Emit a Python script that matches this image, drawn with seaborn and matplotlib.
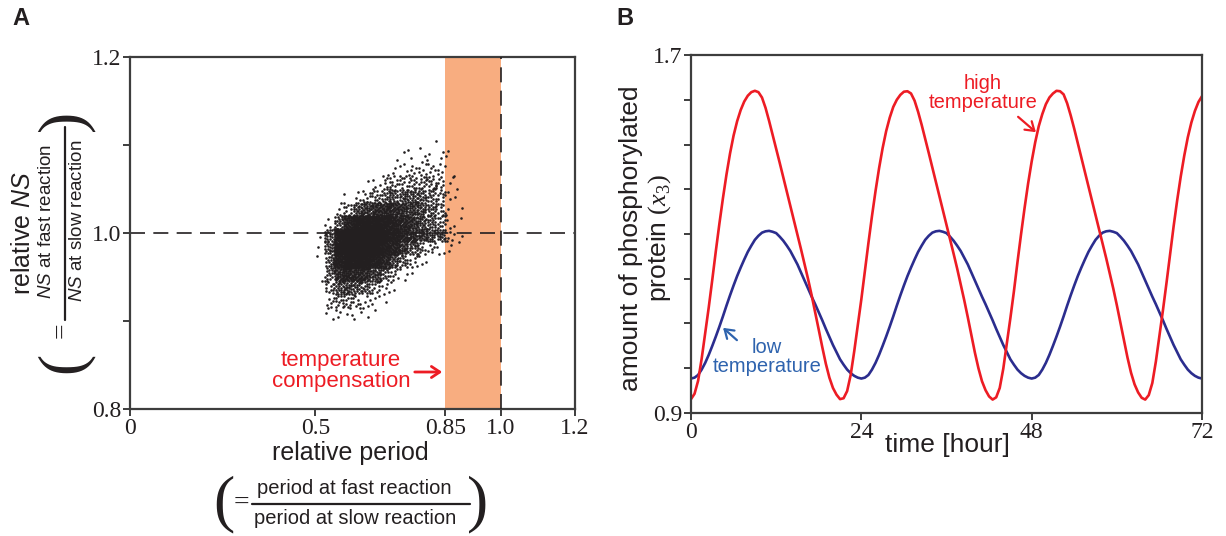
import matplotlib
matplotlib.use("Agg")
import matplotlib.pyplot as plt
import matplotlib.patches as mpatches
import seaborn as sns
import pandas as pd
from matplotlib.lines import Line2D

# ---------------- Panel A data (density of the scatter cloud) ----------------
period_bin_edges = [0.500, 0.525, 0.550, 0.575, 0.600, 0.625, 0.650, 0.675, 0.700,
                    0.725, 0.750, 0.775, 0.800, 0.825, 0.850, 0.875, 0.900]
ns_bin_edges = [1.110, 1.095, 1.080, 1.065, 1.050, 1.035, 1.020, 1.005,
                0.990, 0.975, 0.960, 0.945, 0.930, 0.915, 0.900]
# number of dots per cell (rows: top -> bottom, columns: left -> right)
ns_counts = [
    [0, 0, 0, 0, 0, 0, 0, 0, 0, 0, 0, 1, 0, 1, 0, 0],
    [0, 0, 0, 0, 0, 0, 0, 0, 1, 1, 2, 2, 2, 2, 2, 0],
    [0, 0, 0, 0, 0, 0, 0, 1, 2, 3, 5, 6, 6, 5, 1, 0],
    [0, 0, 0, 0, 0, 1, 3, 6, 8, 10, 12, 11, 10, 8, 2, 1],
    [0, 0, 0, 1, 3, 7, 12, 16, 19, 22, 21, 19, 15, 10, 2, 1],
    [0, 0, 3, 10, 22, 32, 40, 42, 40, 36, 31, 24, 17, 11, 2, 1],
    [0, 3, 18, 50, 75, 90, 90, 78, 60, 46, 35, 25, 18, 12, 3, 1],
    [1, 18, 75, 120, 135, 135, 115, 90, 68, 50, 38, 30, 24, 20, 6, 2],
    [1, 20, 85, 130, 135, 125, 100, 72, 50, 32, 20, 11, 6, 3, 2, 0],
    [1, 18, 65, 100, 100, 88, 66, 44, 26, 14, 7, 3, 0, 0, 0, 0],
    [1, 14, 38, 48, 46, 38, 26, 16, 8, 3, 1, 0, 0, 0, 0, 0],
    [0, 10, 22, 25, 22, 15, 10, 5, 2, 0, 0, 0, 0, 0, 0, 0],
    [0, 6, 10, 10, 8, 5, 3, 1, 0, 0, 0, 0, 0, 0, 0, 0],
    [0, 3, 3, 3, 2, 1, 1, 0, 0, 0, 0, 0, 0, 0, 0, 0],
]
xticks_A = [0, 0.5, 0.85, 1.0, 1.2]
xticklabels_A = ["0", "0.5", "0.85", "1.0", "1.2"]
yticks_A = [0.8, 1.0, 1.2]
yticklabels_A = ["0.8", "1.0", "1.2"]
yminor_A = [0.9, 1.1]
band_A = [0.85, 1.0]

# ---------------- Panel B data (read every half hour) ----------------
time_hours = [i * 0.5 for i in range(145)]
x3_high = [
    0.931, 0.943, 0.972, 1.021, 1.079, 1.136, 1.198, 1.262, 1.323, 1.380, 1.433,
    1.480, 1.520, 1.552, 1.577, 1.596, 1.609, 1.617, 1.620, 1.617, 1.605, 1.582,
    1.553, 1.522, 1.490, 1.459, 1.427, 1.395, 1.363, 1.331, 1.299, 1.266, 1.233,
    1.199, 1.163, 1.125, 1.086, 1.047, 1.010, 0.979, 0.956, 0.941, 0.931,
    0.933, 0.949, 0.985, 1.038, 1.096, 1.154, 1.217, 1.280, 1.340, 1.396, 1.447,
    1.492, 1.530, 1.560, 1.584, 1.600, 1.611, 1.618, 1.619, 1.614, 1.598, 1.573,
    1.544, 1.513, 1.481, 1.449, 1.418, 1.386, 1.354, 1.322, 1.289, 1.256, 1.223,
    1.188, 1.152, 1.114, 1.074, 1.035, 1.000, 0.971, 0.951, 0.937, 0.930,
    0.935, 0.956, 0.999, 1.056, 1.112, 1.172, 1.237, 1.299, 1.358, 1.413, 1.462,
    1.505, 1.541, 1.568, 1.590, 1.605, 1.614, 1.620, 1.619, 1.612, 1.592, 1.565,
    1.535, 1.503, 1.471, 1.440, 1.408, 1.376, 1.344, 1.312, 1.279, 1.246, 1.212,
    1.178, 1.141, 1.102, 1.062, 1.024, 0.990, 0.964, 0.946, 0.934,
    0.930, 0.940, 0.967, 1.015, 1.073, 1.130, 1.191, 1.255, 1.317, 1.375, 1.428,
    1.475, 1.516, 1.549, 1.575, 1.595, 1.608,
]
x3_low = [
    0.977, 0.979, 0.985, 0.997, 1.012, 1.030, 1.050, 1.071, 1.093, 1.116, 1.140, 1.163,
    1.185, 1.206, 1.225, 1.243, 1.260, 1.274, 1.287, 1.296, 1.303, 1.306, 1.307, 1.305,
    1.302, 1.294, 1.285, 1.274, 1.262, 1.247, 1.232, 1.214, 1.196, 1.178, 1.160, 1.143,
    1.125, 1.107, 1.088, 1.070, 1.052, 1.036, 1.020, 1.008, 0.997, 0.989, 0.983, 0.979,
    0.977, 0.979, 0.985, 0.997, 1.012, 1.030, 1.050, 1.071, 1.093, 1.116, 1.140, 1.163,
    1.185, 1.206, 1.225, 1.243, 1.260, 1.274, 1.287, 1.296, 1.303, 1.306, 1.307, 1.305,
    1.302, 1.294, 1.285, 1.274, 1.262, 1.247, 1.232, 1.214, 1.196, 1.178, 1.160, 1.143,
    1.125, 1.107, 1.088, 1.070, 1.052, 1.036, 1.020, 1.008, 0.997, 0.989, 0.983, 0.979,
    0.977, 0.979, 0.985, 0.997, 1.012, 1.030, 1.050, 1.071, 1.093, 1.116, 1.140, 1.163,
    1.185, 1.206, 1.225, 1.243, 1.260, 1.274, 1.287, 1.296, 1.303, 1.306, 1.307, 1.305,
    1.302, 1.294, 1.285, 1.274, 1.262, 1.247, 1.232, 1.214, 1.196, 1.178, 1.160, 1.143,
    1.125, 1.107, 1.088, 1.070, 1.052, 1.036, 1.020, 1.008, 0.997, 0.989, 0.983, 0.979,
    0.977,
]
xticks_B = [0, 24, 48, 72]
yticks_B = [0.9, 1.0, 1.1, 1.2, 1.3, 1.4, 1.5, 1.6, 1.7]
yticklabels_B = ["0.9", "", "", "", "", "", "", "", "1.7"]

# ---------------- style ----------------
sns.set_style("ticks")
plt.rcParams["font.family"] = ["Liberation Sans", "DejaVu Sans"]
plt.rcParams["mathtext.fontset"] = "custom"
plt.rcParams["mathtext.it"] = "Liberation Sans:italic"
plt.rcParams["mathtext.rm"] = "Liberation Sans"
plt.rcParams["mathtext.bf"] = "Liberation Serif:italic"
plt.rcParams["mathtext.sf"] = "Liberation Serif"
SERIF = "Liberation Serif"
INK = "#231f20"
SPINE = "#3d3d3d"
RED = "#ED1C24"
NAVY = "#2B2D8E"
LBLUE = "#2E63AE"
ORANGE = "#F8AD80"

W, H = 1226, 536
fig = plt.figure(figsize=(W / 100, H / 100), dpi=100)


def P(x, y):
    return (x / W, 1 - y / H)


axA = fig.add_axes([130 / W, 1 - 409 / H, 445 / W, 352 / H])
axB = fig.add_axes([691 / W, 1 - 413 / H, 511 / W, 358 / H])

# ---------------- Panel A ----------------
pts_x, pts_y = [], []
k = 0
for i, row in enumerate(ns_counts):
    y_hi, y_lo = ns_bin_edges[i], ns_bin_edges[i + 1]
    for j, n in enumerate(row):
        x_lo, x_hi = period_bin_edges[j], period_bin_edges[j + 1]
        for _ in range(n):
            k += 1
            u = (0.5 + k * 0.7548776662466927) % 1
            v = (0.5 + k * 0.5698402909980532) % 1
            pts_x.append(x_lo + u * (x_hi - x_lo))
            pts_y.append(y_lo + v * (y_hi - y_lo))
dfA = pd.DataFrame({"period": pts_x, "ns": pts_y})

axA.axvspan(band_A[0], band_A[1], color=ORANGE, lw=0, zorder=0)
axA.axhline(1.0, color=INK, lw=1.2, dashes=(9, 5), zorder=1)
axA.axvline(1.0, color=INK, lw=1.2, dashes=(9, 5), zorder=3)
sns.scatterplot(data=dfA, x="period", y="ns", ax=axA, s=3.5, color=INK,
                linewidth=0, marker="o", legend=False, zorder=2)
axA.set_xlim(0, 1.2)
axA.set_ylim(0.8, 1.2)
axA.set_xlabel("")
axA.set_ylabel("")
axA.set_xticks(xticks_A)
axA.set_xticklabels(xticklabels_A, fontfamily=SERIF, fontsize=17)
axA.set_yticks(yticks_A)
axA.set_yticklabels(yticklabels_A, fontfamily=SERIF, fontsize=17)
axA.set_yticks(yminor_A, minor=True)

# ---------------- Panel B ----------------
dfB = pd.DataFrame({
    "time": time_hours + time_hours,
    "x3": x3_low + x3_high,
    "condition": ["low"] * len(time_hours) + ["high"] * len(time_hours),
})
sns.lineplot(data=dfB, x="time", y="x3", hue="condition", hue_order=["low", "high"],
             palette={"low": NAVY, "high": RED}, lw=1.9, legend=False, ax=axB)
axB.set_xlim(0, 72)
axB.set_ylim(0.9, 1.7)
axB.set_xlabel("")
axB.set_ylabel("")
axB.set_xticks(xticks_B)
axB.set_xticklabels([str(t) for t in xticks_B], fontfamily=SERIF, fontsize=17)
axB.set_yticks(yticks_B)
axB.set_yticklabels(yticklabels_B, fontfamily=SERIF, fontsize=17)

for ax in (axA, axB):
    for sp in ax.spines.values():
        sp.set_visible(True)
        sp.set_color(SPINE)
        sp.set_linewidth(1.6)
    ax.tick_params(which="both", direction="out", length=5, width=1.4, color=SPINE,
                   labelcolor=INK, pad=1.5)

# ---------------- texts Panel A ----------------
fig.text(*P(12, 25), "A", fontsize=17, fontweight="bold", color=INK, ha="left", va="baseline")
fig.text(*P(350, 453), "relative period", fontsize=18, color=INK, ha="center", va="center")
fig.text(*P(354, 489), "period at fast reaction", fontsize=14.5, color=INK, ha="center", va="center")
fig.text(*P(355, 518), "period at slow reaction", fontsize=14.5, color=INK, ha="center", va="center")
fig.add_artist(Line2D([252 / W, 470 / W], [1 - 504 / H, 1 - 504 / H], color=INK, lw=1.6))
fig.text(*P(241, 503), "=", fontsize=20, color=INK, ha="center", va="center", fontfamily=SERIF)
fig.text(*P(224, 504), "(", fontsize=46, color=INK, ha="center", va="center", fontfamily=SERIF)
fig.text(*P(478, 504), ")", fontsize=46, color=INK, ha="center", va="center", fontfamily=SERIF)

fig.text(*P(23, 233), "relative $\\mathit{NS}$", fontsize=18, color=INK, ha="center", va="center",
         rotation=90)
fig.text(*P(47, 221), "$\\mathit{NS}$ at fast reaction", fontsize=13.5, color=INK, ha="center",
         va="center", rotation=90)
fig.text(*P(78, 221), "$\\mathit{NS}$ at slow reaction", fontsize=13.5, color=INK, ha="center",
         va="center", rotation=90)
fig.add_artist(Line2D([65 / W, 65 / W], [1 - 127 / H, 1 - 320 / H], color=INK, lw=1.6))
fig.text(*P(62, 330), "=", fontsize=20, color=INK, ha="center", va="center", rotation=90,
         fontfamily=SERIF)
fig.text(*P(65, 362), "(", fontsize=46, color=INK, ha="center", va="center", rotation=90,
         fontfamily=SERIF)
fig.text(*P(65, 120), ")", fontsize=46, color=INK, ha="center", va="center", rotation=90,
         fontfamily=SERIF)

fig.text(*P(341, 371), "temperature\ncompensation", fontsize=16, color=RED, ha="center",
         va="center", linespacing=0.95)
fig.add_artist(mpatches.FancyArrowPatch(P(412, 372), P(445, 372), transform=fig.transFigure,
               arrowstyle="->,head_length=6,head_width=4", color=RED, lw=2.0, mutation_scale=1))

# ---------------- texts Panel B ----------------
fig.text(*P(616, 25), "B", fontsize=17, fontweight="bold", color=INK, ha="left", va="baseline")
fig.text(*P(947, 445), "time [hour]", fontsize=19, color=INK, ha="center", va="center")
fig.text(*P(646, 238), "amount of phosphorylated\nprotein $\\mathsf{(}\\mathbf{x}_{\\mathsf{3}}\\mathsf{)}$",
         fontsize=19, color=INK, ha="center", va="center", rotation=90,
         multialignment="center", linespacing=1.15)
fig.text(*P(983, 93), "high\ntemperature", fontsize=14.5, color=RED, ha="center", va="center",
         linespacing=0.95)
fig.add_artist(mpatches.FancyArrowPatch(P(1016, 115), P(1038, 134), transform=fig.transFigure,
               arrowstyle="->,head_length=6,head_width=4", color=RED, lw=1.6, mutation_scale=1))
fig.text(*P(767, 357), "low\ntemperature", fontsize=14.5, color=LBLUE, ha="center", va="center",
         linespacing=0.95)
fig.add_artist(mpatches.FancyArrowPatch(P(739, 342), P(721, 326), transform=fig.transFigure,
               arrowstyle="->,head_length=6,head_width=4", color=LBLUE, lw=1.6, mutation_scale=1))

fig.savefig("out.png", dpi=100)
